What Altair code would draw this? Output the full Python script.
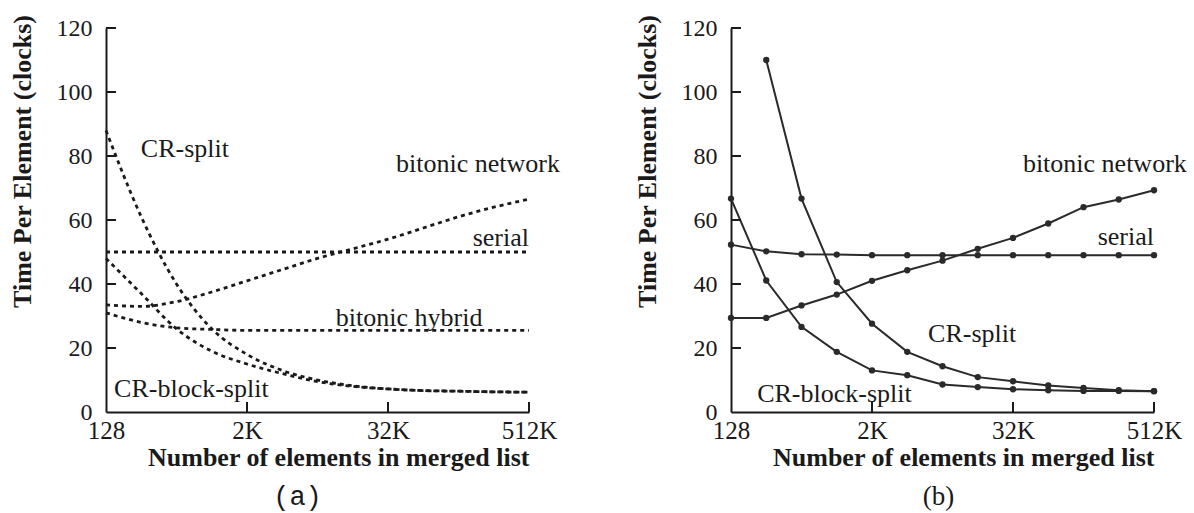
import altair as alt
import pandas as pd

# x positions (number of elements in merged list)
N = [128, 256, 512, 1024, 2048, 4096, 8192, 16384, 32768, 65536, 131072, 262144, 524288]

# ---- panel (a): model predictions (dashed) ----
a_cr_split = [88, 61, 40, 26, 18, 13, 10, 8.2, 7.2, 6.7, 6.5, 6.3, 6.2]
a_cr_block_split = [48, 37, 26, 19, 15, 12, 9.5, 8, 7.2, 6.7, 6.5, 6.3, 6.2]
a_serial = [50, 50, 50, 50, 50, 50, 50, 50, 50, 50, 50, 50, 50]
a_bitonic_hybrid = [31, 28, 26.3, 25.8, 25.5, 25.5, 25.5, 25.5, 25.5, 25.5, 25.5, 25.5, 25.5]
a_bitonic_network = [33.5, 33, 34.5, 37.5, 41, 44.5, 48, 51, 54, 57.5, 61, 64, 66.5]

# ---- panel (b): measured (lines with points) ----
b_cr_split = [None, 110, 66.7, 40.6, 27.6, 18.8, 14.3, 10.9, 9.6, 8.3, 7.5, 6.8, 6.5]
b_cr_block_split = [66.7, 41.1, 26.6, 18.8, 13, 11.5, 8.6, 7.8, 7.1, 6.8, 6.6, 6.6, 6.5]
b_serial = [52.3, 50.2, 49.3, 49.2, 49, 49, 49, 49, 49, 49, 49, 49, 49]
b_bitonic_network = [29.4, 29.4, 33.3, 36.7, 41, 44.3, 47.3, 51, 54.4, 58.9, 64, 66.4, 69.3]

# axis ticks
Y_TICKS = [0, 20, 40, 60, 80, 100, 120]
X_TICKS = [128, 2048, 32768, 524288]

# in-plot labels: text, n, value, align
a_label_text = ["CR-split", "bitonic network", "serial", "bitonic hybrid", "CR-block-split"]
a_label_n = [254, 38400, 524288, 11750, 150]
a_label_t = [82.2, 77.5, 54.4, 29.4, 7.2]
a_label_align = ["left", "left", "right", "left", "left"]

b_label_text = ["bitonic network", "serial", "CR-split", "CR-block-split"]
b_label_n = [39800, 524288, 6170, 214]
b_label_t = [77.5, 54.7, 24.4, 5.6]
b_label_align = ["left", "right", "left", "left"]

W, H = 423, 384
SERIF = "Liberation Serif"
INK = "#1a1a1a"


def long_df(series):
    rows = []
    for name, vals in series.items():
        for n, v in zip(N, vals):
            if v is not None:
                rows.append({"series": name, "n": n, "t": v})
    return pd.DataFrame(rows)


def panel(series, lab_text, lab_n, lab_t, lab_align, caption, caption_font, caption_dx, dashed):
    X = alt.X(
        "n:Q",
        scale=alt.Scale(type="log", base=2, domain=[128, 524288], nice=False),
        axis=alt.Axis(
            values=X_TICKS,
            labelExpr="datum.value >= 1024 ? format(datum.value / 1024, 'd') + 'K' : format(datum.value, 'd')",
            ticks=False, grid=False, domainColor=INK, domainWidth=2,
            labelFont=SERIF, labelFontSize=25, labelColor=INK, labelPadding=6,
            labelFlush=False, labelOverlap=False,
            title="Number of elements in merged list", titleFont=SERIF,
            titleFontSize=26, titleFontWeight="bold", titleColor=INK,
            titleAnchor="end", titlePadding=1,
        ),
    )
    Y = alt.Y(
        "t:Q",
        scale=alt.Scale(domain=[0, 120], nice=False),
        axis=alt.Axis(
            values=Y_TICKS, ticks=False, grid=False, domainColor=INK, domainWidth=2,
            labelFont=SERIF, labelFontSize=24, labelColor=INK, labelPadding=14,
            labelFlush=False, labelOverlap=False,
            title="Time Per Element (clocks)", titleFont=SERIF, titleFontSize=26,
            titleFontWeight="bold", titleColor=INK,
            titleX=-84, titleY=133, titleAlign="center", titleBaseline="middle",
        ),
    )
    df = long_df(series)
    if dashed:
        lines = alt.Chart(df).mark_line(
            color=INK, strokeWidth=2.8, strokeDash=[4, 4], interpolate="monotone"
        ).encode(x=X, y=Y, detail="series:N")
    else:
        lines = alt.Chart(df).mark_line(
            color="#2a2a2a", strokeWidth=2,
            point=alt.OverlayMarkDef(filled=True, size=40, color="#2a2a2a"),
        ).encode(x=X, y=Y, detail="series:N")

    ytick = alt.Chart(pd.DataFrame({"t": Y_TICKS[1:]})).mark_rule(
        color=INK, strokeWidth=2
    ).encode(y=Y, x=alt.value(0), x2=alt.value(10))
    xtick = alt.Chart(pd.DataFrame({"n": X_TICKS[1:]})).mark_rule(
        color=INK, strokeWidth=2
    ).encode(x=X, y=alt.value(H), y2=alt.value(H - 10))

    ldf = pd.DataFrame({"label": lab_text, "n": lab_n, "t": lab_t, "align": lab_align})
    texts = []
    for al in ["left", "right"]:
        sub = ldf[ldf["align"] == al]
        if len(sub):
            texts.append(
                alt.Chart(sub).mark_text(
                    font=SERIF, fontSize=26, color=INK, align=al, baseline="middle"
                ).encode(x=X, y=Y, text="label:N")
            )

    cap = alt.Chart(pd.DataFrame({"c": [caption]})).mark_text(
        font=caption_font, fontSize=27, color=INK, align="center", baseline="middle"
    ).encode(x=alt.value(W / 2 + caption_dx), y=alt.value(H + 85), text="c:N")

    return alt.layer(lines, ytick, xtick, *texts, cap).properties(width=W, height=H)


left = panel(
    {
        "CR-split": a_cr_split,
        "CR-block-split": a_cr_block_split,
        "serial": a_serial,
        "bitonic hybrid": a_bitonic_hybrid,
        "bitonic network": a_bitonic_network,
    },
    a_label_text, a_label_n, a_label_t, a_label_align,
    "(a)", "Liberation Mono", -20, True,
)
right = panel(
    {
        "CR-split": b_cr_split,
        "CR-block-split": b_cr_block_split,
        "serial": b_serial,
        "bitonic network": b_bitonic_network,
    },
    b_label_text, b_label_n, b_label_t, b_label_align,
    "(b)", SERIF, -4, False,
)

chart = alt.hconcat(left, right, spacing=202, bounds="flush").properties(
    padding={"left": 8, "top": 14, "right": 0, "bottom": 8},
    background="white",
).configure_view(stroke=None)

chart.save("out.html", embed_options={"renderer": "svg", "actions": False})
